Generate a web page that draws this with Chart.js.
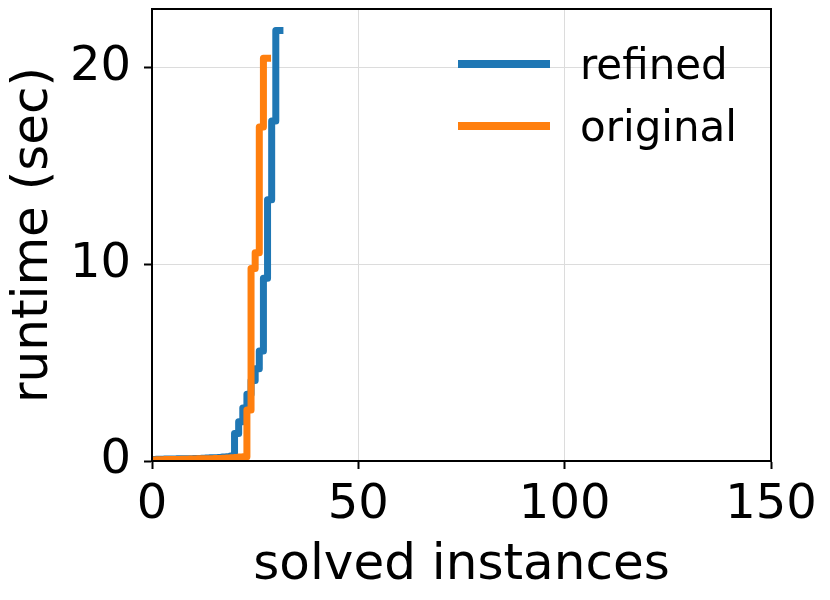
<!DOCTYPE html>
<html>
<head>
<meta charset="utf-8">
<script src="https://cdn.jsdelivr.net/npm/chart.js@4/dist/chart.umd.min.js"></script>
<style>
  html, body { margin: 0; padding: 0; background: #fff; }
  #wrap { width: 830px; height: 600px; }
</style>
</head>
<body>
<div id="wrap"><canvas id="myChart" width="830" height="600"></canvas></div>
<script>
// runtime (sec) per solved instance, sorted
var refinedRuntime = [0.08, 0.08, 0.09, 0.09, 0.1, 0.1, 0.1, 0.11, 0.11, 0.12,
    0.12, 0.13, 0.13, 0.14, 0.15, 0.16, 0.17, 0.18, 0.2, 0.22,
    0.25, 1.4, 2.0, 2.7, 3.4, 4.1, 4.7, 5.6, 9.3, 13.3, 17.3, 21.9]
var originalRuntime = [0.05, 0.05, 0.06, 0.06, 0.07, 0.07, 0.08, 0.08, 0.09, 0.09,
    0.1, 0.1, 0.11, 0.11, 0.12, 0.12, 0.13, 0.13, 0.14, 0.15,
    0.16, 0.18, 0.2, 0.22, 2.6, 9.8, 10.6, 17.0, 20.5]
var seriesNames = ['refined', 'original']
var xTicks = [0, 50, 100, 150]
var yTicks = [0, 10, 20]

const blue = '#1f77b4'
const orange = '#ff7f0e'
const fontFam = "'DejaVu Sans', sans-serif"

function toPoints(arr) {
    let pts = []
    for (let i = 0; i < arr.length; i++) {
        pts.push({x: i, y: arr[i]})
    }
    return pts
}

const frameAndLegend = {
    id: 'frameAndLegend',
    afterDatasetsDraw: chart => {
        let ctx = chart.ctx
        let a = chart.chartArea
        ctx.save()
        ctx.strokeStyle = '#000'
        ctx.lineWidth = 2
        ctx.strokeRect(a.left, a.top, a.right - a.left, a.bottom - a.top)
        // legend
        let colors = [blue, orange]
        let rows = [64, 126]
        ctx.lineCap = 'butt'
        ctx.font = '42px ' + fontFam
        ctx.fillStyle = '#000'
        ctx.textBaseline = 'alphabetic'
        for (let i = 0; i < seriesNames.length; i++) {
            ctx.strokeStyle = colors[i]
            ctx.lineWidth = 8
            ctx.beginPath()
            ctx.moveTo(458, rows[i])
            ctx.lineTo(550, rows[i])
            ctx.stroke()
            ctx.fillText(seriesNames[i], 580, rows[i] + 15)
        }
        ctx.restore()
    }
}

const ctx = document.getElementById('myChart')
new Chart(ctx, {
    type: 'line',
    data: {
        datasets: [{
            label: seriesNames[0],
            data: toPoints(refinedRuntime),
            borderColor: blue,
            borderWidth: 7,
            stepped: 'after',
            pointRadius: 0,
            borderCapStyle: 'square',
            borderJoinStyle: 'round',
            fill: false,
            clip: 0,
            order: 2
        }, {
            label: seriesNames[1],
            data: toPoints(originalRuntime),
            borderColor: orange,
            borderWidth: 7,
            stepped: 'after',
            pointRadius: 0,
            borderCapStyle: 'square',
            borderJoinStyle: 'round',
            fill: false,
            clip: 0,
            order: 1
        }]
    },
    options: {
        responsive: false,
        animation: false,
        layout: {
            padding: {left: 0, right: 59, top: 9, bottom: 0}
        },
        scales: {
            x: {
                type: 'linear',
                min: 0,
                max: 150,
                afterBuildTicks: s => { s.ticks = xTicks.map(v => ({value: v})) },
                afterFit: s => { s.height = 139 },
                grid: {color: '#dcdcdc', lineWidth: 1, tickColor: '#000', tickWidth: 2, tickLength: 8},
                border: {color: '#000', width: 2},
                ticks: {color: '#000', font: {family: fontFam, size: 48}, padding: 8, maxRotation: 0},
                title: {display: true, text: 'solved instances', color: '#000',
                    font: {family: fontFam, size: 50}, padding: {top: 0, bottom: 4}}
            },
            y: {
                type: 'linear',
                min: 0,
                max: 23,
                afterBuildTicks: s => { s.ticks = yTicks.map(v => ({value: v})) },
                afterFit: s => { s.width = 152; s.paddingTop = 0; s.paddingBottom = 0 },
                grid: {color: '#dcdcdc', lineWidth: 1, tickColor: '#000', tickWidth: 2, tickLength: 8},
                border: {color: '#000', width: 2},
                ticks: {color: '#000', font: {family: fontFam, size: 48}, padding: 13},
                title: {display: true, text: 'runtime (sec)', color: '#000',
                    font: {family: fontFam, size: 50}, padding: {top: 4, bottom: 0}}
            }
        },
        plugins: {
            legend: {display: false},
            tooltip: {enabled: false}
        }
    },
    plugins: [frameAndLegend]
});
</script>
</body>
</html>
